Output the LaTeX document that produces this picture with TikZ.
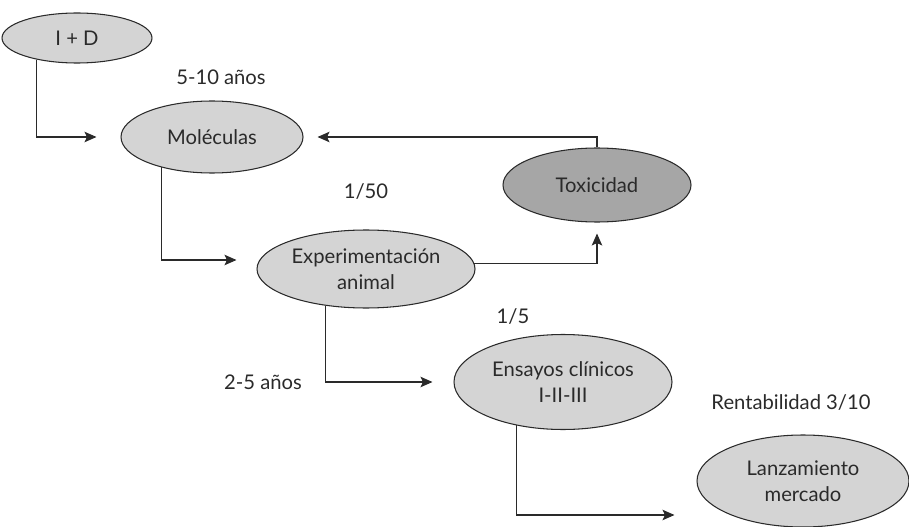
\documentclass[tikz,border=0pt]{standalone}
\usepackage{fontspec}
\setmainfont{Lato}
\usepackage{xcolor}
\usepackage{tikz}
\usetikzlibrary{shapes.geometric, positioning, arrows.meta}

\definecolor{lightfill}{HTML}{D4D4D4}
\definecolor{darkfill}{HTML}{A6A6A6}
\definecolor{inkgray}{HTML}{2A2A2A}

\begin{document}
\begin{tikzpicture}[on grid, line width=0.6pt, draw=inkgray, text=inkgray,
    font=\fontsize{11.5}{14.5}\selectfont,
    stage/.style={ellipse, draw=inkgray, fill=lightfill, inner sep=0pt, align=center},
    note/.style={inner sep=0pt},
    link/.style={-{Stealth[length=2.4mm, width=2.1mm, inset=0.5mm]}, draw=inkgray}]
       \useasboundingbox (0,0) rectangle (18.18,-10.54);

       \node[stage, minimum width=3cm, minimum height=1cm] (iD) at (1.54,-0.76) {I + D};
       \node[stage, minimum width=3.64cm, minimum height=1.44cm] (mol) [below right=1.98cm and 2.7cm of iD] {Moléculas};
       \node[stage, minimum width=4.36cm, minimum height=1.56cm] (exp) [below right=2.64cm and 3.08cm of mol] {Experimentación\\animal};
       \node[stage, fill=darkfill, minimum width=3.76cm, minimum height=1.48cm] (tox) [above right=1.68cm and 4.62cm of exp] {Toxicidad};
       \node[stage, minimum width=4.36cm, minimum height=1.9cm] (ens) [below right=2.26cm and 3.94cm of exp] {Ensayos clínicos\\I-II-III};
       \node[stage, minimum width=4.24cm, minimum height=1.84cm] (lan) [below right=1.98cm and 4.8cm of ens] {Lanzamiento\\mercado};

       % labels
       \node[note] (yrsA) [above right=1.2cm and 0.18cm of mol] {5-10 años};
       \node[note] (rate1) [above=1.54cm of exp] {1/50};
       \node[note] (rate2) [above left=1.3cm and 1cm of ens] {1/5};
       \node[note] (yrsB) [left=6cm of ens] {2-5 años};
       \node[note] (rent) [above left=1.56cm and 0.24cm of lan] {Rentabilidad 3/10};

       \draw[link] (iD.208) |- ([xshift=-0.48cm]mol.west);
       \draw[link] (mol.211) |- ([xshift=-0.4cm,yshift=0.18cm]exp.west);
       \draw[link] (exp.3) -| ([yshift=-0.22cm]tox.south);
       \draw[link] (tox.north) |- ([xshift=0.28cm]mol.east);
       \draw[link] (exp.222) |- ([xshift=-0.42cm]ens.west);
       \draw[link] (ens.223) |- ([xshift=-0.44cm,yshift=-0.68cm]lan.west);
\end{tikzpicture}
\end{document}
